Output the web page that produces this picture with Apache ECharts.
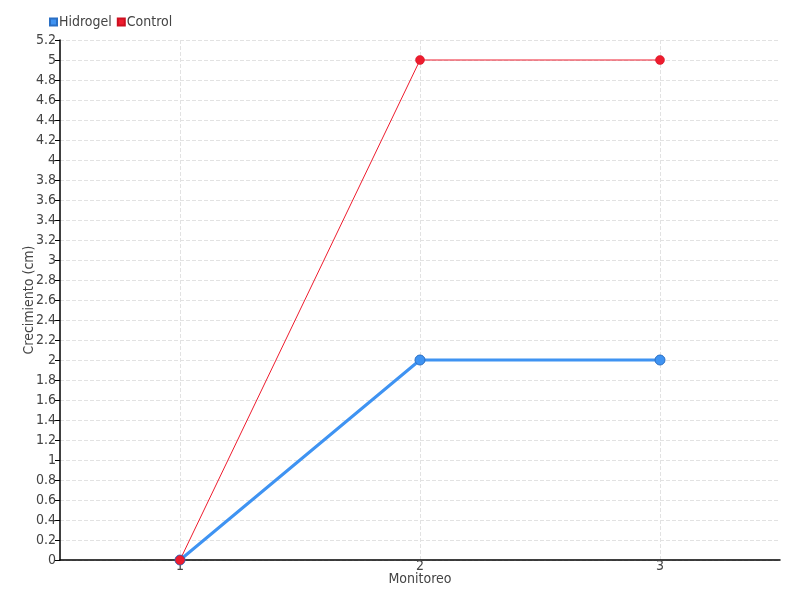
<!DOCTYPE html>
<html><head><meta charset="utf-8">
<script src="https://cdn.jsdelivr.net/npm/echarts@6/dist/echarts.min.js"></script>
<style>html,body{margin:0;padding:0;background:#fff}#c{width:800px;height:600px}</style>
</head><body><div id="c"></div>
<script>
const categories = ['1', '2', '3'];
const hidrogel = [0, 2, 2];
const control = [0, 5, 5];
const FONT = '"DejaVu Sans Condensed", "Liberation Sans Narrow", sans-serif';
const chart = echarts.init(document.getElementById('c'));
chart.setOption({
  animation: false,
  textStyle: { fontFamily: FONT },
  legend: {
    left: 44, top: 10, itemWidth: 7, itemHeight: 7, itemGap: 5,
    icon: 'rect',
    textStyle: { fontFamily: FONT, fontSize: 14, color: '#444', padding: [0,0,0,-3] },
    data: ['Hidrogel', 'Control']
  },
  grid: { left: 60, right: 20, top: 40, bottom: 40, containLabel: false },
  xAxis: {
    type: 'category', data: categories, boundaryGap: true,
    name: 'Monitoreo', nameLocation: 'middle', nameGap: 12, nameMoveOverlap: false,
    nameTextStyle: { fontFamily: FONT, fontSize: 14, color: '#444' },
    axisLine: { lineStyle: { color: '#000', width: 1.5 } },
    axisTick: { alignWithLabel: true, length: 8, lineStyle: { color: '#333' } },
    axisLabel: { fontFamily: FONT, fontSize: 14, color: '#444', margin: -1 },
    splitLine: { show: true, alignWithLabel: true,
      lineStyle: { type: 'dashed', color: ['#e2e2e2', '#e2e2e2', '#e2e2e2', 'rgba(0,0,0,0)'] } }
  },
  yAxis: {
    type: 'value', min: 0, max: 5.2, interval: 0.2,
    name: 'Crecimiento (cm)', nameLocation: 'middle', nameGap: 24, nameMoveOverlap: false,
    nameTextStyle: { fontFamily: FONT, fontSize: 14, color: '#444' },
    axisLine: { show: true, lineStyle: { color: '#000', width: 1.5 } },
    axisTick: { show: true, length: 5, lineStyle: { color: '#000' } },
    axisLabel: { fontFamily: FONT, fontSize: 14, color: '#444', margin: 4,
      formatter: v => String(Math.round(v * 10) / 10) },
    splitLine: { show: true, lineStyle: { type: 'dashed', color: '#e2e2e2' } }
  },
  series: [
    { name: 'Hidrogel', type: 'line', data: hidrogel, symbol: 'circle', symbolSize: 10,
      color: '#3f93f2',
      lineStyle: { width: 3, color: '#3f93f2' },
      itemStyle: { color: '#3f93f2', borderColor: '#2a6fc4', borderWidth: 1 } },
    { name: 'Control', type: 'line', data: control, symbol: 'circle', symbolSize: 9,
      color: '#ee1c2e',
      lineStyle: { width: 1, color: '#ee1c2e' },
      itemStyle: { color: '#ee1c2e', borderColor: '#cc1020', borderWidth: 0.5 } }
  ]
});
</script></body></html>
